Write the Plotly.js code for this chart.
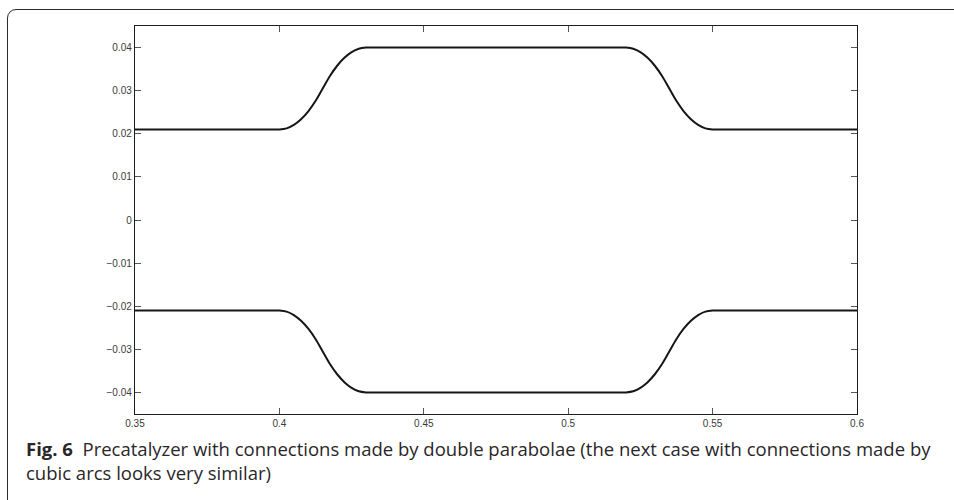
<!DOCTYPE html>
<html>
<head>
<meta charset="utf-8">
<script src="https://cdn.plot.ly/plotly-3.0.1.min.js"></script>
<style>
  html, body { margin: 0; padding: 0; background: #fff; }
  #wrap { position: relative; width: 954px; height: 500px; overflow: hidden; }
  #chart { position: absolute; left: 0; top: 0; width: 954px; height: 500px; }
  #frame {
    position: absolute; left: 7px; top: 9px; width: 980px; height: 540px;
    border: 1.2px solid #2b2b2b; border-top-left-radius: 9px;
    pointer-events: none;
  }
</style>
</head>
<body>
<div id="wrap">
  <div id="chart"></div>
  <div id="frame"></div>
</div>
<script>
// Axial positions along the precatalyzer (same stations for both walls)
const stations = [0.35, 0.3975, 0.4, 0.4025, 0.405, 0.4075, 0.41, 0.4125, 0.415, 0.4175,
  0.42, 0.4225, 0.425, 0.4275, 0.43, 0.4325, 0.5175, 0.52, 0.5225, 0.525, 0.5275, 0.53,
  0.5325, 0.535, 0.5375, 0.54, 0.5425, 0.545, 0.5475, 0.55, 0.5525, 0.6];

// Upper wall profile (connections by double parabolae)
const upperWall = [0.021, 0.021, 0.021, 0.02126, 0.02206, 0.02338, 0.02522, 0.0276, 0.0305,
  0.0334, 0.03578, 0.03762, 0.03894, 0.03974, 0.04, 0.04, 0.04, 0.04, 0.03974, 0.03894,
  0.03762, 0.03578, 0.0334, 0.0305, 0.0276, 0.02522, 0.02338, 0.02206, 0.02126, 0.021,
  0.021, 0.021];

// Lower wall profile
const lowerWall = [-0.021, -0.021, -0.021, -0.02126, -0.02206, -0.02338, -0.02522, -0.0276,
  -0.0305, -0.0334, -0.03578, -0.03762, -0.03894, -0.03974, -0.04, -0.04, -0.04, -0.04,
  -0.03974, -0.03894, -0.03762, -0.03578, -0.0334, -0.0305, -0.0276, -0.02522, -0.02338,
  -0.02206, -0.02126, -0.021, -0.021, -0.021];

// Tick values and labels
const xTickVals = [0.35, 0.4, 0.45, 0.5, 0.55, 0.6];
const xTickText = ['0.35', '0.4', '0.45', '0.5', '0.55', '0.6'];
const yTickVals = [0.04, 0.03, 0.02, 0.01, 0, -0.01, -0.02, -0.03, -0.04];
const yTickText = ['0.04', '0.03', '0.02', '0.01', '0', '\u22120.01', '\u22120.02', '\u22120.03', '\u22120.04'];

const captionBold = 'Fig. 6';
const captionText = 'Precatalyzer with connections made by double parabolae (the next case with connections made by<br>cubic arcs looks very similar)';

const wallLine = { color: '#161616', width: 2, shape: 'spline', smoothing: 1 };

const traces = [
  { x: stations, y: upperWall, mode: 'lines', line: wallLine, hoverinfo: 'x+y', showlegend: false },
  { x: stations, y: lowerWall, mode: 'lines', line: wallLine, hoverinfo: 'x+y', showlegend: false }
];

const axisCommon = {
  showgrid: false, zeroline: false,
  showline: true, linecolor: '#1e1e1e', linewidth: 1.2, mirror: 'ticks',
  ticks: 'inside', ticklen: 6, tickwidth: 1, tickcolor: '#555',
  tickfont: { family: 'Liberation Sans, Arial, sans-serif', size: 10, color: '#3a3a3a' },
  tickmode: 'array'
};

const layout = {
  width: 954, height: 500,
  margin: { l: 135, r: 97, t: 26, b: 86 },
  paper_bgcolor: 'rgba(0,0,0,0)', plot_bgcolor: '#fff',
  xaxis: Object.assign({}, axisCommon, {
    range: [0.35, 0.6], tickvals: xTickVals, ticktext: xTickText
  }),
  yaxis: Object.assign({}, axisCommon, {
    range: [-0.045, 0.045], tickvals: yTickVals, ticktext: yTickText
  }),
  annotations: [{
    xref: 'paper', yref: 'paper',
    x: (24 - 135) / 722, y: (414 - 434) / 388,
    xanchor: 'left', yanchor: 'top', align: 'left', showarrow: false,
    font: { family: 'Open Sans, Noto Sans, sans-serif', size: 18.5, color: '#2a2628' },
    text: '<b>' + captionBold + '</b>\u00a0\u00a0' + captionText
  }]
};

Plotly.newPlot('chart', traces, layout, { staticPlot: true, displayModeBar: false });
</script>
</body>
</html>
